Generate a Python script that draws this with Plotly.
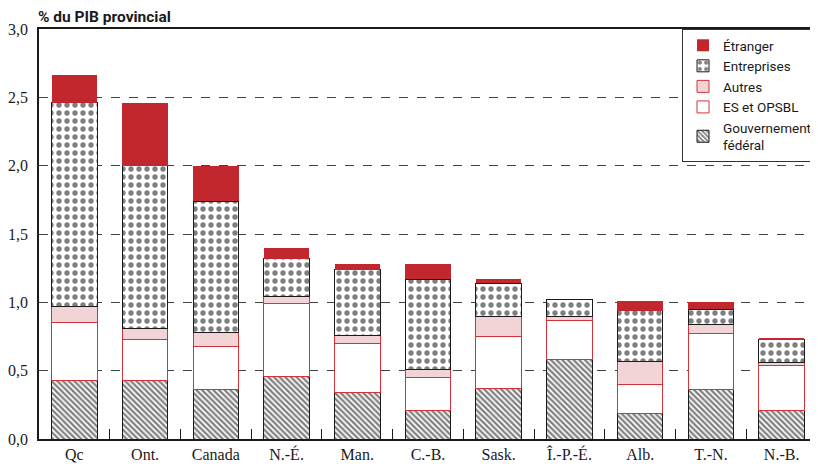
import plotly.graph_objects as go

# catégories (provinces) et composantes, en % du PIB provincial
provinces = ["Qc", "Ont.", "Canada", "N.-É.", "Man.", "C.-B.", "Sask.", "Î.-P.-É.", "Alb.", "T.-N.", "N.-B."]

gouv_federal = [0.43, 0.43, 0.36, 0.46, 0.34, 0.21, 0.37, 0.58, 0.19, 0.36, 0.21]
es_opsbl = [0.42, 0.30, 0.32, 0.53, 0.36, 0.24, 0.38, 0.29, 0.21, 0.41, 0.33]
autres = [0.12, 0.08, 0.10, 0.05, 0.06, 0.06, 0.15, 0.03, 0.17, 0.07, 0.02]
entreprises = [1.49, 1.19, 0.96, 0.28, 0.48, 0.66, 0.24, 0.12, 0.37, 0.11, 0.17]
etranger = [0.20, 0.46, 0.26, 0.08, 0.04, 0.11, 0.03, 0.00, 0.07, 0.05, 0.01]

y_ticks = [0.0, 0.5, 1.0, 1.5, 2.0, 2.5, 3.0]

ROUGE = "#C1272D"
ROUGE_TRAIT = "#D23239"
ROSE = "#F2D4D6"
NOIR = "#1a1a1a"

# la page ajoute une marge de 8 px autour du graphique : on travaille en 810 x 456
W, H = 810, 456
L, R, T, B = 31, 0, 21, 25

fig = go.Figure()

fig.add_trace(go.Bar(
    x=provinces, y=gouv_federal, name="Gouvernement<br>fédéral",
    marker=dict(color="white", line=dict(color=NOIR, width=1),
                pattern=dict(shape="\\", fgcolor="black", bgcolor="white", size=4, solidity=0.55)),
))
fig.add_trace(go.Bar(
    x=provinces, y=es_opsbl, name="ES et OPSBL",
    marker=dict(color="white", line=dict(color=ROUGE_TRAIT, width=1)),
))
fig.add_trace(go.Bar(
    x=provinces, y=autres, name="Autres",
    marker=dict(color=ROSE, line=dict(color=ROUGE_TRAIT, width=1)),
))
fig.add_trace(go.Bar(
    x=provinces, y=entreprises, name="Entreprises",
    marker=dict(color="white", line=dict(color=NOIR, width=1),
                pattern=dict(shape=".", fgcolor="black", bgcolor="white", size=8, solidity=0.35)),
))
fig.add_trace(go.Bar(
    x=provinces, y=etranger, name="Étranger",
    marker=dict(color=ROUGE, line=dict(color=ROUGE, width=0)),
))

fig.update_layout(
    width=W,
    height=H,
    barmode="stack",
    bargap=0.357,
    separators=", ",
    plot_bgcolor="white",
    paper_bgcolor="white",
    margin=dict(l=L, r=R, t=T, b=B),
    title=dict(
        text="<b>% du PIB provincial</b>",
        x=30 / W, xanchor="left", xref="container",
        y=1 - 8.5 / H, yanchor="middle", yref="container",
        font=dict(family="Roboto", size=15.5, color=NOIR),
    ),
    xaxis=dict(
        showline=True,
        linecolor=NOIR,
        linewidth=1.5,
        mirror=True,
        showgrid=False,
        ticks="inside",
        tickson="boundaries",
        ticklen=10,
        tickcolor=NOIR,
        tickfont=dict(family="Liberation Serif", size=16, color=NOIR),
    ),
    yaxis=dict(
        range=[0, 3.0],
        tickvals=y_ticks,
        tickformat=".1f",
        showline=True,
        linecolor=NOIR,
        linewidth=1.5,
        showgrid=True,
        gridcolor="#444",
        griddash="dash",
        gridwidth=1,
        zeroline=False,
        ticks="",
        ticklabelstandoff=6,
        tickfont=dict(family="Liberation Serif", size=16, color=NOIR),
    ),
    showlegend=True,
    legend=dict(
        x=(675 - L) / (W - L - R), xanchor="left",
        y=1.0, yanchor="top",
        traceorder="reversed",
        bordercolor="#333",
        borderwidth=1,
        bgcolor="white",
        font=dict(family="Roboto", size=13.5, color=NOIR),
        itemwidth=30,
    ),
)

fig.write_html("out.html")
